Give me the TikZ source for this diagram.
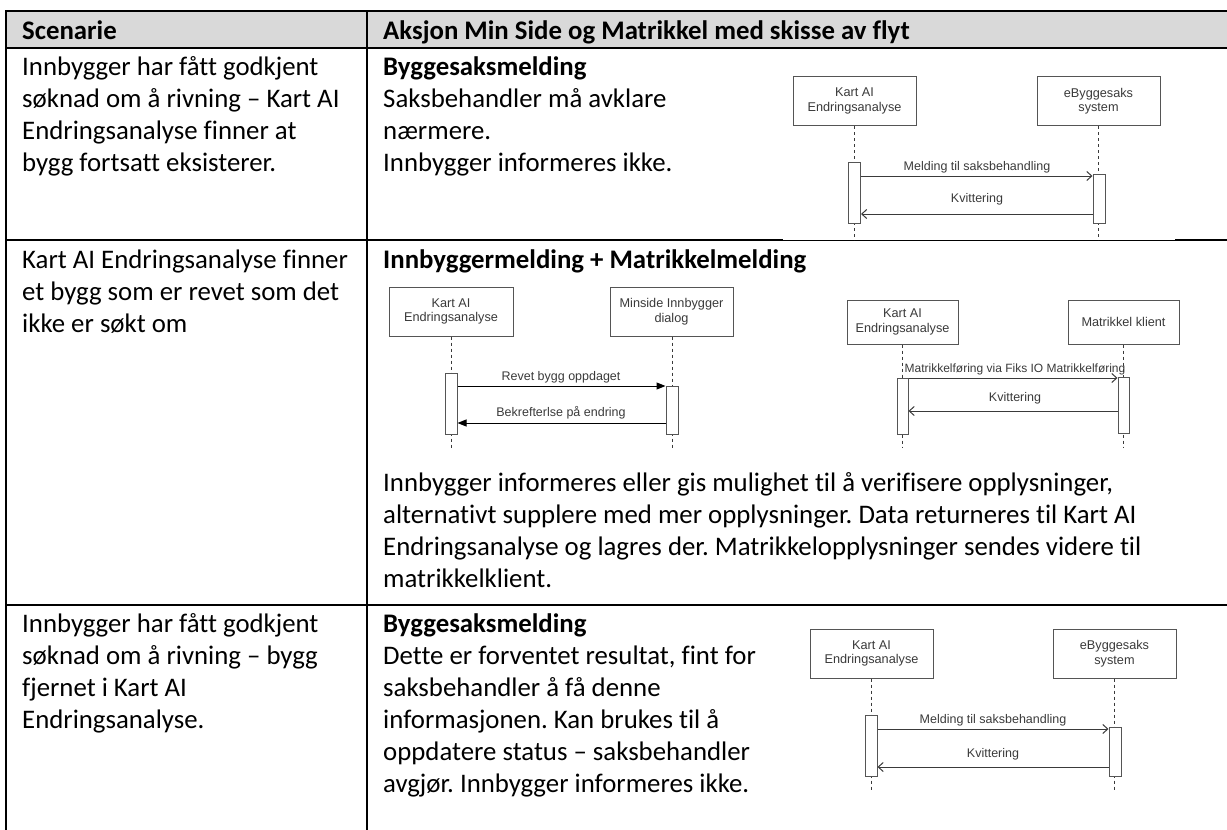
\documentclass[tikz,border=0pt]{standalone}
\usepackage{fontspec}
\setmainfont{Carlito}[Ligatures={NoCommon}]
\newfontfamily\diag{Liberation Sans}
\usetikzlibrary{arrows.meta}
\definecolor{hdr}{HTML}{D9D9D9}
\definecolor{dgray}{HTML}{3A3A3A}
\definecolor{bgray}{HTML}{555555}
\frenchspacing
\begin{document}
\begin{tikzpicture}[x=1pt,y=-1pt,
 body/.style={anchor=base west, inner sep=0pt, font=\fontsize{26.8}{32}\selectfont},
 bodyb/.style={anchor=base west, inner sep=0pt, font=\fontsize{26.8}{32}\selectfont\bfseries},
 grid/.style={line width=2pt, black},
 actor/.style={draw=bgray, line width=1pt, fill=white, minimum width=123pt, minimum height=49pt, inner sep=0pt, align=center, text=dgray, font=\diag\fontsize{12.7}{14.5}\selectfont},
 act/.style={draw=bgray, line width=1pt, fill=white, minimum width=12pt, inner sep=0pt},
 life/.style={draw=dgray, line width=1pt, dash pattern=on 3pt off 3pt},
 msgo/.style={draw=dgray, line width=1pt, -{Straight Barb[length=5pt,width=9pt]}},
 msgf/.style={draw=black, line width=1pt, -{Triangle[length=9pt,width=7pt]}},
 lbl/.style={inner sep=0pt, text=dgray, font=\diag\fontsize{12.5}{14}\selectfont, anchor=base},
]
\useasboundingbox (0,0) rectangle (1227,830);
% header
\fill[hdr] (6,11) rectangle (1227,48);
% grid
\draw[grid] (6,11) -- (1227,11);
\draw[grid] (6,48) -- (1227,48);
\draw[grid] (6,10) -- (6,830);
\draw[grid] (367,10) -- (367,830);
\draw[grid] (6,240) -- (783,240);
\draw[line width=1pt] (783,240) -- (1175,240);
\draw[grid] (1175,240) -- (1227,240);
\draw[grid] (6,605) -- (1227,605);

% header text
\node[bodyb] (h1) at (22,39) {Scenarie};
\node[bodyb] (h2) at (383,39) {Aksjon Min Side og Matrikkel med skisse av flyt};

% row 1 left
\node[body] (r1a) at (22,75) {Innbygger har fått godkjent};
\node[body] (r1b) at (22,107) {søknad om å rivning – Kart AI};
\node[body] (r1c) at (22,139) {Endringsanalyse finner at};
\node[body] (r1d) at (22,171) {bygg fortsatt eksisterer.};
% row 1 right
\node[bodyb] (r1e) at (383,75) {Byggesaksmelding};
\node[body] (r1f) at (383,107) {Saksbehandler må avklare};
\node[body] (r1g) at (383,139) {nærmere.};
\node[body] (r1h) at (383,171) {Innbygger informeres ikke.};

% row 2 left
\node[body] (r2a) at (22,268) {Kart AI Endringsanalyse finner};
\node[body] (r2b) at (22,300) {et bygg som er revet som det};
\node[body] (r2c) at (22,332) {ikke er søkt om};
% row 2 right
\node[bodyb] (r2d) at (383,268) {Innbyggermelding + Matrikkelmelding};
\node[body] (r2e) at (383,491) {Innbygger informeres eller gis mulighet til å verifisere opplysninger,};
\node[body] (r2f) at (383,523) {alternativt supplere med mer opplysninger. Data returneres til Kart AI};
\node[body] (r2g) at (383,555) {Endringsanalyse og lagres der. Matrikkelopplysninger sendes videre til};
\node[body] (r2h) at (383,587) {matrikkelklient.};

% row 3 left
\node[body] (r3a) at (22,632) {Innbygger har fått godkjent};
\node[body] (r3b) at (22,664) {søknad om å rivning – bygg};
\node[body] (r3c) at (22,696) {fjernet i Kart AI};
\node[body] (r3d) at (22,728) {Endringsanalyse.};
% row 3 right
\node[bodyb] (r3e) at (383,632) {Byggesaksmelding};
\node[body] (r3f) at (383,664) {Dette er forventet resultat, fint for};
\node[body] (r3g) at (383,696) {saksbehandler å få denne};
\node[body] (r3h) at (383,728) {informasjonen. Kan brukes til å};
\node[body] (r3i) at (383,760) {oppdatere status – saksbehandler};
\node[body] (r3j) at (383,792) {avgjør. Innbygger informeres ikke.};

% ===== sequence 1 =====
\node[actor] (k1) at (854.5,101) {Kart AI\\Endringsanalyse};
\node[actor] (e1) at (1098.5,101) {eByggesaks\\system};
\coordinate (k1end) at (854.5,240);
\coordinate (e1end) at (1098.5,240);
\draw[life] (k1.south) -- (k1end);
\draw[life] (e1.south) -- (e1end);
\node[act, minimum height=61pt] (a1) at (854.5,192.5) {};
\node[act, minimum height=49pt] (b1) at (1099,198.5) {};
\draw[msgo] (a1.east |- 0,176) -- (b1.west |- 0,176);
\draw[msgo] (b1.west |- 0,214) -- (a1.east |- 0,214);
\node[lbl] (l1a) at (977,170) {Melding til saksbehandling};
\node[lbl] (l1b) at (977,202) {Kvittering};

% ===== sequence 2a =====
\node[actor, minimum width=124pt] (k2) at (451,311.5) {Kart AI\\Endringsanalyse};
\node[actor] (m2) at (671.5,311.5) {Minside Innbygger\\dialog};
\coordinate (k2end) at (451,448);
\coordinate (m2end) at (672,448);
\draw[life] (k2.south) -- (k2end);
\draw[life] (m2.south -| m2end) -- (m2end);
\node[act, minimum height=61pt] (a2) at (451,403.5) {};
\node[act, minimum height=48pt] (b2) at (672,410) {};
\draw[msgf] (a2.east |- 0,386) -- (b2.west |- 0,386);
\draw[msgf] (b2.west |- 0,423) -- (a2.east |- 0,423);
\node[lbl] (l2a) at (561,380) {Revet bygg oppdaget};
\node[lbl] (l2b) at (561,416) {Bekrefterlse på endring};

% ===== sequence 2b =====
\node[actor, minimum width=111pt, minimum height=44pt] (k3) at (902.5,322) {Kart AI\\Endringsanalyse};
\node[actor, minimum width=111pt, minimum height=44pt] (m3) at (1123.5,322) {Matrikkel klient};
\coordinate (k3end) at (902.5,447);
\coordinate (m3end) at (1123.5,447);
\draw[life] (k3.south) -- (k3end);
\draw[life] (m3.south) -- (m3end);
\node[act, minimum width=11pt, minimum height=56pt] (a3) at (902.5,406) {};
\node[act, minimum width=11pt, minimum height=56pt] (b3) at (1123.5,405) {};
\draw[msgo] (a3.east |- 0,378) -- (b3.west |- 0,378);
\draw[msgo] (b3.west |- 0,411) -- (a3.east |- 0,411);
\node[lbl, font=\diag\fontsize{12}{14}\selectfont] (l3a) at (1015,372) {Matrikkelføring via Fiks IO Matrikkelføring};
\node[lbl] (l3b) at (1015,401) {Kvittering};

% ===== sequence 3 =====
\node[actor] (k4) at (871.5,653.5) {Kart AI\\Endringsanalyse};
\node[actor] (e4) at (1114.5,653.5) {eByggesaks\\system};
\coordinate (k4end) at (871.5,790);
\coordinate (e4end) at (1114.5,790);
\draw[life] (k4.south) -- (k4end);
\draw[life] (e4.south) -- (e4end);
\node[act, minimum height=61pt] (a4) at (871,745.5) {};
\node[act, minimum height=49pt] (b4) at (1115,751.5) {};
\draw[msgo] (a4.east |- 0,729) -- (b4.west |- 0,729);
\draw[msgo] (b4.west |- 0,767) -- (a4.east |- 0,767);
\node[lbl] (l4a) at (993,723) {Melding til saksbehandling};
\node[lbl] (l4b) at (993,757) {Kvittering};
\end{tikzpicture}
\end{document}
